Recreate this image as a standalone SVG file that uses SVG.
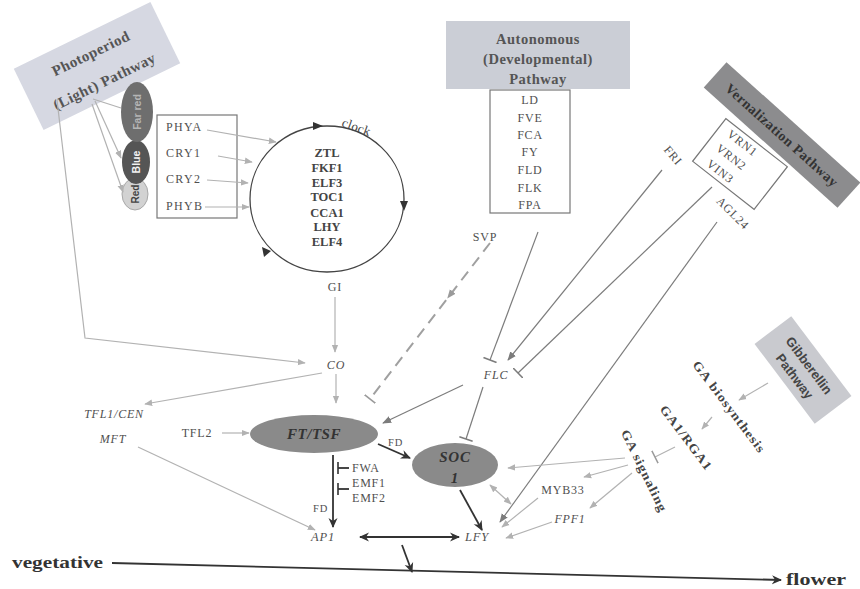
<svg xmlns="http://www.w3.org/2000/svg" width="860" height="589" viewBox="0 0 860 589">
<style>
.lt{stroke:#b2b2b2;stroke-width:1.2;fill:none}
.md{stroke:#7c7c7c;stroke-width:1.2;fill:none}
.dk{stroke:#333;stroke-width:1.8;fill:none}
.lab{font-family:"Liberation Serif",serif}
.it{font-style:italic}
.b{font-weight:bold}
.c{text-anchor:middle}
.sans{font-family:"Liberation Sans",sans-serif;font-weight:bold}
</style>
<defs>
<marker id="ahL" viewBox="0 0 10 10" refX="9" refY="5" markerWidth="8" markerHeight="8" markerUnits="userSpaceOnUse" orient="auto-start-reverse"><path d="M0,1 L10,5 L0,9 z" fill="#b2b2b2"/></marker>
<marker id="ahM" viewBox="0 0 10 10" refX="9" refY="5" markerWidth="9" markerHeight="9" markerUnits="userSpaceOnUse" orient="auto-start-reverse"><path d="M0,1 L10,5 L0,9 z" fill="#7c7c7c"/></marker>
<marker id="ahD" viewBox="0 0 10 10" refX="9" refY="5" markerWidth="10" markerHeight="10" markerUnits="userSpaceOnUse" orient="auto-start-reverse"><path d="M0,0.5 L10,5 L0,9.5 L3,5 z" fill="#333"/></marker>
<marker id="ahS" viewBox="0 0 10 10" refX="5" refY="5" markerWidth="9" markerHeight="9" markerUnits="userSpaceOnUse" orient="auto"><path d="M0,1 L10,5 L0,9 z" fill="#9a9a9a"/></marker>
<marker id="tbL" viewBox="0 0 4 14" refX="2" refY="7" markerWidth="4" markerHeight="14" markerUnits="userSpaceOnUse" orient="auto"><path d="M2,0 V14" stroke="#9a9a9a" stroke-width="1.6"/></marker>
<marker id="tbM" viewBox="0 0 4 14" refX="2" refY="7" markerWidth="4" markerHeight="14" markerUnits="userSpaceOnUse" orient="auto"><path d="M2,0 V14" stroke="#7c7c7c" stroke-width="1.6"/></marker>
<marker id="tbD" viewBox="0 0 4 12" refX="2" refY="6" markerWidth="4" markerHeight="12" markerUnits="userSpaceOnUse" orient="auto"><path d="M2,0 V12" stroke="#333" stroke-width="1.6"/></marker>
</defs>
<rect width="860" height="589" fill="#fff"/>
<g font-size="12" fill="#505050" letter-spacing="0.8">

<g id="photoperiod" transform="translate(97,66) rotate(-26)">
<rect x="-76" y="-34" width="152" height="68" fill="#d6d8e2"/>
<text class="lab b c" x="0" y="-9" font-size="15" fill="#555" letter-spacing="0.5">Photoperiod</text>
<text class="lab b c" x="0" y="22" font-size="15" fill="#555" letter-spacing="0.5">(Light) Pathway</text>
</g>
<g id="autonomous">
<rect x="446" y="21" width="184" height="68" fill="#cbced6"/>
<text class="lab b c" x="538" y="44" font-size="14.5" fill="#555" letter-spacing="0.5">Autonomous</text>
<text class="lab b c" x="538" y="64" font-size="14.5" fill="#555" letter-spacing="0.5">(Developmental)</text>
<text class="lab b c" x="538" y="84" font-size="14.5" fill="#555" letter-spacing="0.5">Pathway</text>
</g>
<g id="vernalization" transform="translate(782,135) rotate(42)">
<rect x="-90" y="-17" width="180" height="34" fill="#8c8c8e"/>
<text class="lab b c" x="0" y="5" font-size="14" fill="#333" letter-spacing="0.5">Vernalization Pathway</text>
</g>
<g id="gibberellin" transform="translate(803,370) rotate(53)">
<rect x="-50" y="-23" width="100" height="46" fill="#c9cacf"/>
<text class="sans c" x="0" y="-3" font-size="13" fill="#444" letter-spacing="0">Gibberellin</text>
<text class="sans c" x="0" y="15" font-size="13" fill="#444" letter-spacing="0">Pathway</text>
</g>

<g id="light-red"><ellipse cx="135" cy="194" rx="13" ry="16" fill="#d2d2d2" stroke="#a8a8a8"/><text class="sans c" transform="translate(139,194) rotate(-90)" font-size="10" fill="#444" letter-spacing="0">Red</text></g>
<g id="light-blue"><ellipse cx="136" cy="162" rx="14" ry="22" fill="#555"/><text class="sans c" transform="translate(140,162) rotate(-90)" font-size="10.5" fill="#f2f2f2" letter-spacing="0">Blue</text></g>
<g id="light-farred"><ellipse cx="137" cy="112" rx="16" ry="30" fill="#6e6e6e"/><text class="sans c" transform="translate(141,112) rotate(-90)" font-size="10.5" fill="#b5b5b5" letter-spacing="0">Far red</text></g>

<g id="photoreceptors">
<rect x="157" y="115" width="80" height="103" fill="none" stroke="#777" stroke-width="1.2"/>
<text class="lab" x="166" y="131" letter-spacing="1.3">PHYA</text>
<text class="lab" x="166" y="157" letter-spacing="1.3">CRY1</text>
<text class="lab" x="166" y="183" letter-spacing="1.3">CRY2</text>
<text class="lab" x="166" y="210" letter-spacing="1.3">PHYB</text>
</g>

<g id="clock">
<ellipse cx="327" cy="199" rx="77" ry="73" fill="none" stroke="#444" stroke-width="1.3"/>
<path d="M323,126 L313,122 L313,130 z" fill="#333"/>
<path d="M404,211 L400,201 L408,201 z" fill="#333"/>
<path d="M262,247 L264,257 L271,251 z" fill="#333"/>
<text class="lab" transform="translate(341,126) rotate(20)" font-size="13" fill="#444" letter-spacing="0.3">clock</text>
<text class="lab b c" x="327" y="157" font-size="12.5" fill="#444" letter-spacing="0">ZTL</text>
<text class="lab b c" x="327" y="172" font-size="12.5" fill="#444" letter-spacing="0">FKF1</text>
<text class="lab b c" x="327" y="187" font-size="12.5" fill="#444" letter-spacing="0">ELF3</text>
<text class="lab b c" x="327" y="201" font-size="12.5" fill="#444" letter-spacing="0">TOC1</text>
<text class="lab b c" x="327" y="217" font-size="12.5" fill="#444" letter-spacing="0">CCA1</text>
<text class="lab b c" x="327" y="231" font-size="12.5" fill="#444" letter-spacing="0">LHY</text>
<text class="lab b c" x="327" y="246" font-size="12.5" fill="#444" letter-spacing="0">ELF4</text>
</g>

<g id="autonomous-genes">
<rect x="490" y="90" width="80" height="123" fill="none" stroke="#777" stroke-width="1.2"/>
<text class="lab c" x="530" y="104">LD</text>
<text class="lab c" x="530" y="122">FVE</text>
<text class="lab c" x="530" y="139">FCA</text>
<text class="lab c" x="530" y="156">FY</text>
<text class="lab c" x="530" y="174">FLD</text>
<text class="lab c" x="530" y="192">FLK</text>
<text class="lab c" x="530" y="209">FPA</text>
</g>

<g id="vrn" transform="translate(740,164) rotate(38)">
<rect x="-39" y="-27" width="78" height="54" fill="none" stroke="#777" stroke-width="1.2"/>
<text class="lab c" x="-11" y="-14">VRN1</text>
<text class="lab c" x="-11" y="4">VRN2</text>
<text class="lab c" x="-11" y="22">VIN3</text>
</g>

<g id="gi"><text class="lab c" x="335" y="291">GI</text></g>
<g id="co"><text class="lab it c" x="336" y="369">CO</text></g>
<g id="svp"><text class="lab c" x="485" y="241">SVP</text></g>
<g id="fri"><text class="lab c" transform="translate(670,158) rotate(50)">FRI</text></g>
<g id="agl24"><text class="lab c" transform="translate(730,216) rotate(45)">AGL24</text></g>
<g id="flc"><text class="lab it c" x="496" y="379">FLC</text></g>
<g id="tfl1"><text class="lab it c" x="114" y="418">TFL1/CEN</text></g>
<g id="mft"><text class="lab it c" x="113" y="443">MFT</text></g>
<g id="tfl2"><text class="lab c" x="197" y="437">TFL2</text></g>
<g id="ft"><ellipse cx="314" cy="434" rx="64" ry="19" fill="#8a8a8a"/><text class="lab it b c" x="314" y="439" font-size="15" fill="#333" letter-spacing="0.5">FT/TSF</text></g>
<g id="soc1"><ellipse cx="455" cy="465" rx="43" ry="22" fill="#8a8a8a"/><text class="lab it b c" x="455" y="462" font-size="15" fill="#333">SOC</text><text class="lab it b c" x="455" y="483" font-size="15" fill="#333">1</text></g>
<g id="fd-labels"><text class="lab" x="388" y="446" font-size="10.5">FD</text><text class="lab" x="313" y="512" font-size="10.5">FD</text></g>
<g id="fwa-emf"><text class="lab" x="352" y="472">FWA</text><text class="lab" x="352" y="487">EMF1</text><text class="lab" x="352" y="502">EMF2</text></g>
<g id="myb33"><text class="lab c" x="563" y="494">MYB33</text></g>
<g id="fpf1"><text class="lab it c" x="570" y="523">FPF1</text></g>
<g id="ap1"><text class="lab it c" x="323" y="541" font-size="12.5">AP1</text></g>
<g id="lfy"><text class="lab it c" x="477" y="541" font-size="12.5">LFY</text></g>
<g id="ga-bio"><text class="lab b c" transform="translate(729,407) rotate(53)" dominant-baseline="central" font-size="12.5" fill="#444" textLength="112" lengthAdjust="spacingAndGlyphs">GA biosynthesis</text></g>
<g id="ga-rga"><text class="lab b c" transform="translate(686,438) rotate(53)" dominant-baseline="central" font-size="12.5" fill="#444" textLength="78" lengthAdjust="spacingAndGlyphs">GA1/RGA1</text></g>
<g id="ga-sig"><text class="lab b c" transform="translate(644,471) rotate(64)" dominant-baseline="central" font-size="12.5" fill="#444" textLength="90" lengthAdjust="spacingAndGlyphs">GA signaling</text></g>
<g id="vegetative"><text class="lab b" x="12" y="568" font-size="17" fill="#333" letter-spacing="0" textLength="91" lengthAdjust="spacingAndGlyphs">vegetative</text></g>
<g id="flower"><text class="lab b" x="786" y="585" font-size="17" fill="#333" letter-spacing="0" textLength="60" lengthAdjust="spacingAndGlyphs">flower</text></g>
</g>

<g id="connectors">
<line class="lt" x1="93" y1="99" x2="121" y2="108"/>
<line class="lt" x1="95" y1="101" x2="121" y2="158" marker-end="url(#ahL)"/>
<line class="lt" x1="92" y1="104" x2="123" y2="192" marker-end="url(#ahL)"/>
<polyline class="lt" points="57,100 85,338 305,363" marker-end="url(#ahL)"/>
<line class="lt" x1="207" y1="130" x2="276" y2="142" marker-end="url(#ahL)"/>
<line class="lt" x1="218" y1="156" x2="252" y2="162" marker-end="url(#ahL)"/>
<line class="lt" x1="207" y1="180" x2="248" y2="183" marker-end="url(#ahL)"/>
<line class="lt" x1="205" y1="207" x2="249" y2="207" marker-end="url(#ahL)"/>
<line class="lt" x1="335" y1="297" x2="335" y2="352" marker-end="url(#ahL)"/>
<line class="lt" x1="336" y1="374" x2="336" y2="403" marker-end="url(#ahL)"/>
<line class="lt" x1="322" y1="373" x2="145" y2="404" marker-end="url(#ahL)"/>
<line class="lt" x1="138" y1="447" x2="315" y2="530" marker-end="url(#ahL)"/>
<line class="lt" x1="222" y1="433" x2="249" y2="433" marker-end="url(#ahL)"/>
<polyline points="490,243 450,295 370,399" fill="none" stroke="#a0a0a0" stroke-width="2" stroke-dasharray="11,7" marker-mid="url(#ahS)" marker-end="url(#tbL)"/>
<line class="md" x1="538" y1="232" x2="490" y2="360" marker-end="url(#tbM)"/>
<line class="md" x1="662" y1="170" x2="508" y2="360" marker-end="url(#ahM)"/>
<line class="md" x1="712" y1="187" x2="518" y2="373" marker-end="url(#tbM)"/>
<line class="md" x1="717" y1="222" x2="500" y2="522" marker-end="url(#ahM)"/>
<line class="md" x1="463" y1="385" x2="383" y2="423" marker-end="url(#ahM)"/>
<line class="md" x1="483" y1="387" x2="466" y2="439" marker-end="url(#tbM)"/>
<line class="dk" x1="378" y1="444" x2="410" y2="458" marker-end="url(#ahD)"/>
<line class="dk" x1="333" y1="455" x2="333" y2="527" marker-end="url(#ahD)"/>
<line class="dk" x1="349" y1="468" x2="338" y2="468" stroke-width="1.3" marker-end="url(#tbD)"/>
<line class="dk" x1="349" y1="489" x2="338" y2="489" stroke-width="1.3" marker-end="url(#tbD)"/>
<line class="dk" x1="460" y1="490" x2="482" y2="530" marker-end="url(#ahD)"/>
<line class="lt" x1="490" y1="485" x2="511" y2="504" marker-start="url(#ahL)" marker-end="url(#ahL)"/>
<line class="dk" x1="360" y1="537" x2="459" y2="537" marker-start="url(#ahD)" marker-end="url(#ahD)"/>
<line class="dk" x1="402" y1="545" x2="412" y2="572" stroke-width="2.2" marker-end="url(#ahD)"/>
<line class="dk" x1="112" y1="563" x2="781" y2="580" stroke-width="2.5" marker-end="url(#ahD)"/>
<line class="lt" x1="768" y1="383" x2="739" y2="400" marker-end="url(#ahL)"/>
<line class="lt" x1="712" y1="417" x2="702" y2="429" marker-end="url(#ahL)"/>
<line class="lt" x1="675" y1="447" x2="655" y2="457" marker-end="url(#tbL)"/>
<line class="lt" x1="625" y1="458" x2="508" y2="468" marker-end="url(#ahL)"/>
<line class="lt" x1="628" y1="465" x2="584" y2="477" marker-end="url(#ahL)"/>
<line class="lt" x1="632" y1="473" x2="590" y2="508" marker-end="url(#ahL)"/>
<line class="lt" x1="538" y1="498" x2="502" y2="527" marker-end="url(#ahL)"/>
<line class="lt" x1="552" y1="522" x2="506" y2="538" marker-end="url(#ahL)"/>
</g>
</svg>
